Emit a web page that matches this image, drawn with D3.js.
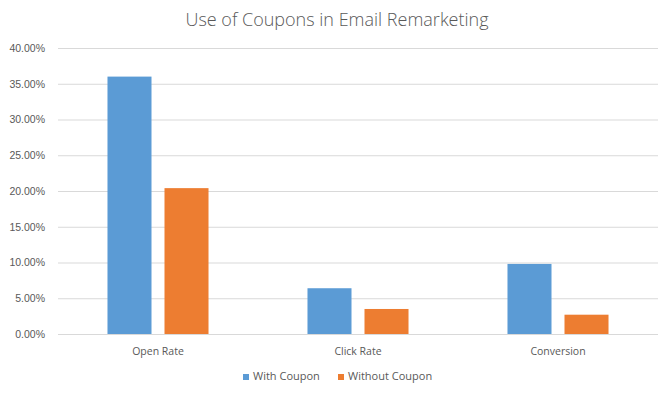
<!DOCTYPE html>
<html>
<head>
<meta charset="utf-8">
<script src="https://cdn.jsdelivr.net/npm/d3@7"></script>
<style>
  body { margin: 0; background: #fff; }
  svg { display: block; font-family: "Open Sans", sans-serif; }
</style>
</head>
<body>
<svg id="chart" width="669" height="394"></svg>
<script>
// chart data
const categories = ["Open Rate", "Click Rate", "Conversion"];
const seriesNames = ["With Coupon", "Without Coupon"];
const withCoupon = [0.36, 0.064, 0.098];
const withoutCoupon = [0.204, 0.035, 0.027];
const yTicks = [0, 0.05, 0.10, 0.15, 0.20, 0.25, 0.30, 0.35, 0.40];
const colors = ["#5B9BD5", "#ED7D31"];

const svg = d3.select("#chart");
const margin = { left: 58, right: 11, top: 48, bottom: 60 };
const W = 669, H = 394;

const x = d3.scaleBand()
  .domain(categories)
  .range([margin.left, W - margin.right])
  .paddingInner(0)
  .paddingOuter(0);

const xSeries = d3.scaleBand()
  .domain(seriesNames)
  .range([0, x.bandwidth()])
  .paddingInner(0.228)
  .paddingOuter(0.868);

const y = d3.scaleLinear()
  .domain([0, 0.40])
  .range([H - margin.bottom, margin.top]);

// title
svg.append("text")
  .attr("x", 337)
  .attr("y", 26)
  .attr("text-anchor", "middle")
  .attr("fill", "#595959")
  .style("font-size", "18px")
  .style("font-weight", "300")
  .text("Use of Coupons in Email Remarketing");

// gridlines
const yAxis = d3.axisLeft(y)
  .tickValues(yTicks)
  .tickFormat(d3.format(".2%"))
  .tickSize(-(W - margin.left - margin.right))
  .tickPadding(13);

const gAxis = svg.append("g")
  .attr("transform", `translate(${margin.left},0)`)
  .call(yAxis);
gAxis.select(".domain").remove();
gAxis.selectAll(".tick line").attr("stroke", "#D9D9D9").attr("stroke-width", 1);
gAxis.selectAll(".tick text")
  .attr("fill", "#595959")
  .style("font-size", "10.5px");

// bars
const rows = categories.map((c, i) => ({ cat: c, vals: [withCoupon[i], withoutCoupon[i]] }));

const groups = svg.append("g")
  .selectAll("g")
  .data(rows)
  .join("g")
  .attr("transform", d => `translate(${x(d.cat)},0)`);

groups.selectAll("rect")
  .data(d => d.vals.map((v, j) => ({ name: seriesNames[j], v, j })))
  .join("rect")
  .attr("x", d => xSeries(d.name))
  .attr("width", xSeries.bandwidth())
  .attr("y", d => y(d.v))
  .attr("height", d => y(0) - y(d.v))
  .attr("fill", d => colors[d.j]);

// category labels
svg.append("g")
  .selectAll("text")
  .data(categories)
  .join("text")
  .attr("x", d => x(d) + x.bandwidth() / 2)
  .attr("y", H - margin.bottom + 21)
  .attr("text-anchor", "middle")
  .attr("fill", "#595959")
  .style("font-size", "10.5px")
  .text(d => d);

// legend
const legendX = [243, 338];
const legend = svg.append("g")
  .selectAll("g")
  .data(seriesNames)
  .join("g")
  .attr("transform", (d, i) => `translate(${legendX[i]},380)`);

legend.append("rect")
  .attr("x", 0)
  .attr("y", -6)
  .attr("width", 6)
  .attr("height", 6)
  .attr("fill", (d, i) => colors[i]);

legend.append("text")
  .attr("x", 10)
  .attr("y", 0)
  .attr("fill", "#595959")
  .style("font-size", "11px")
  .text(d => d);
</script>
</body>
</html>
